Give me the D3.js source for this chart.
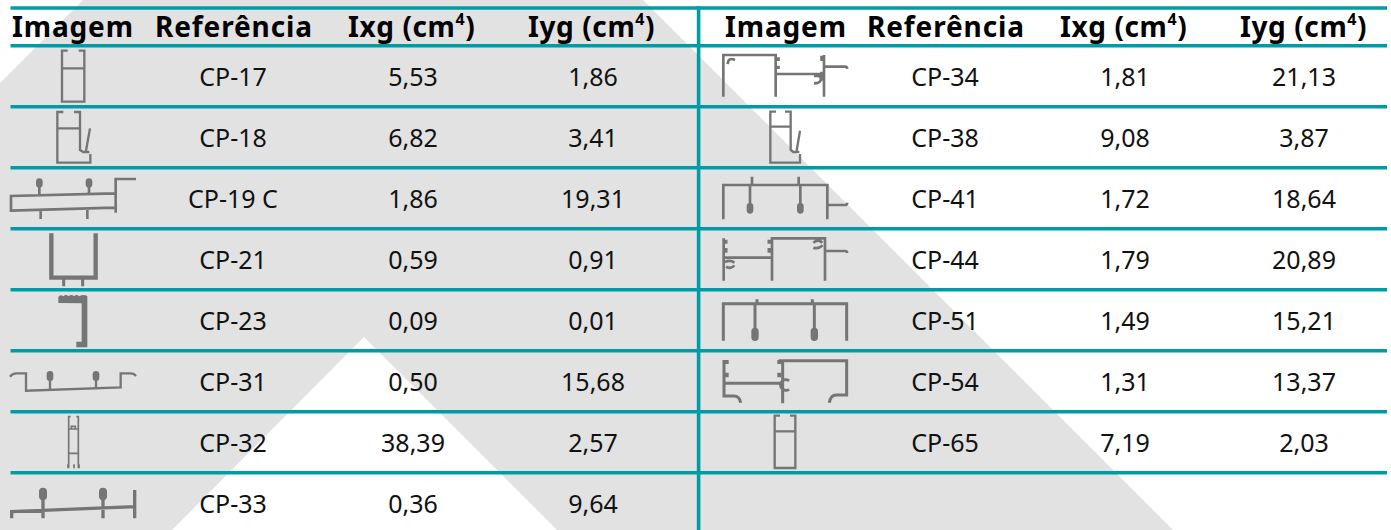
<!DOCTYPE html>
<html lang="pt">
<head>
<meta charset="utf-8">
<title>Perfis CP</title>
<script src="https://cdn.jsdelivr.net/npm/d3@7"></script>
<style>
  html, body { margin: 0; padding: 0; background: #fff; overflow: hidden; }
  svg { display: block; }
  text { font-family: "Noto Sans", "Open Sans", sans-serif; fill: #111; }
  .head { font-size: 28px; font-weight: 700; fill: #000; }
  .cell { font-size: 25px; text-anchor: middle; }
</style>
</head>
<body>
<svg id="chart" width="1391" height="530"></svg>
<script>
const refsLeft = ['CP-17', 'CP-18', 'CP-19 C', 'CP-21', 'CP-23', 'CP-31', 'CP-32', 'CP-33'];
const ixgLeft = ['5,53', '6,82', '1,86', '0,59', '0,09', '0,50', '38,39', '0,36'];
const iygLeft = ['1,86', '3,41', '19,31', '0,91', '0,01', '15,68', '2,57', '9,64'];

const refsRight = ['CP-34', 'CP-38', 'CP-41', 'CP-44', 'CP-51', 'CP-54', 'CP-65'];
const ixgRight = ['1,81', '9,08', '1,72', '1,79', '1,49', '1,31', '7,19'];
const iygRight = ['21,13', '3,87', '18,64', '20,89', '15,21', '13,37', '2,03'];

const headers = ['Imagem', 'Referência', 'Ixg', 'Iyg'];

const TEAL = '#009ca6', GRAY = '#e2e2e2', STEEL = '#757575';

const svg = d3.select('#chart');

// rows are 61px apart; the last line falls off the page
const rowY = d3.scaleLinear().domain([0, 8]).range([45.7, 533.7]);

// fundo: chevron cinza
const bg = [[83, 0], [643, 0], [1173, 530], [557, 530], [364, 337], [172, 530], [0, 530], [0, 83]];
svg.append('path').attr('d', d3.line()(bg) + 'Z').attr('fill', GRAY);

// perfis, traced at 3x: x from the column origin, y from the row's top line
// bulb = rounded stud head
const bulb = (x, y, rx, ry) =>
  `M${x - rx},${y - ry + rx}a${rx},${rx} 0 0,1 ${2 * rx},0V${y + ry - rx}a${rx},${rx} 0 0,1 ${-2 * rx},0Z`;

const shapes = {
  'CP-17': { w: 7, d: 'M203,15H186V168H253V15H236M186,68H253' },
  'CP-18': { w: 7, d: 'M190,16H172V168H271V142M222,16H240V130L250,136H268M172,65H240M270,65L258,132' },
  'CP-19 C': {
    w: 8,
    d: 'M345,77L33,85V129L345,120M347,135V34H408M118,82V50M267,78V50M122,126V154M262,122V154',
    f: bulb(118, 46, 10, 14) + bulb(267, 46, 10, 14),
  },
  'CP-21': { w: 13, d: 'M154,14V147H287V14', s: { w: 9, d: 'M191,150V173M248,150V173' } },
  'CP-23': {
    f: 'M175,40V22Q180,12 190,20Q198,12 206,20Q214,12 222,20Q230,12 238,20Q250,12 262,19V173H229V156H245V41Z',
  },
  'CP-31': {
    w: 7,
    d: 'M30,78Q38,68 48,68H78V120L362,110V68H392Q402,68 408,76M150,115V85M288,112V85',
    f: bulb(150, 76, 10, 15) + bulb(288, 76, 10, 15),
  },
  'CP-32': {
    w: 5,
    d: 'M212,15H206V170M229,15H235V170M206,52H235M206,125H235M214,50V44H226V50M204,170V158M237,170V158M222,170V158',
  },
  'CP-33': {
    w: 10,
    d: 'M35,137V117L404,102M404,52V137M129,75V137M309,75V137',
    f: bulb(129, 64, 12, 19) + bulb(309, 64, 12, 19),
  },
  'CP-34': {
    w: 8,
    d: 'M100,153V28H257V153M257,85H402M402,28V153M402,63H465q6,0 7,6M135,43Q115,33 113,55M372,91H384Q394,91 392,103Q390,113 372,113',
    s: { w: 11, d: 'M264,35V46M264,60V70M396,30V46M396,78V105' },
  },
  'CP-38': { w: 7, d: 'M258,15H241V168H330V142M285,15H302V130L310,136H328M241,60H302M330,72L320,132' },
  'CP-41': {
    w: 8,
    d: 'M100,155V52H412V155M186,27V52M326,27V52M180,52V110M331,52V110M412,112H465q6,0 7,-7',
    f: bulb(180, 122, 10, 16) + bulb(331, 122, 10, 16),
  },
  'CP-44': {
    w: 8,
    d: 'M101,156V29M101,87H246M246,156V29H405V156M404,67H465q6,0 7,6M370,42Q385,30 397,42M370,57Q385,62 398,50M105,100Q122,92 133,102M133,110Q125,122 108,114',
    s: { w: 11, d: 'M107,33V45M107,58V72M238,33V45M238,58V72' },
  },
  'CP-51': {
    w: 9,
    d: 'M100,153V42H470V153M201,29V42M367,29V42M195,42V120M373,42V120',
    f: bulb(195, 134, 11, 20) + bulb(373, 134, 11, 20),
  },
  'CP-54': {
    w: 9,
    d: 'M102,28V136H132Q148,136 152,156M102,98H270M278,30V158M266,30H470V133H438Q422,133 418,156M297,90A16,16 0 1,0 297,116',
    s: { w: 12, d: 'M110,28V40M110,66V80M268,28V40M268,66V80' },
  },
  'CP-65': { w: 7, d: 'M270,12H254V169H316V12H300M254,59H316' },
};

function drawIcon(name, x0, rowTop) {
  const sh = shapes[name];
  const g = svg.append('g').attr('transform', `translate(${x0},${rowTop}) scale(${1 / 3})`);
  if (sh.d) g.append('path').attr('d', sh.d).attr('fill', 'none').attr('stroke', STEEL).attr('stroke-width', sh.w);
  if (sh.s) g.append('path').attr('d', sh.s.d).attr('fill', 'none').attr('stroke', STEEL).attr('stroke-width', sh.s.w);
  if (sh.f) g.append('path').attr('d', sh.f).attr('fill', STEEL);
}

function drawTable(refs, ixg, iyg, opt) {
  refs.forEach((r, i) => {
    const top = rowY(i);
    drawIcon(r, opt.iconX, top);
    const base = top + 39.8;
    svg.append('text').attr('class', 'cell').attr('x', opt.cols[0]).attr('y', base).text(r);
    svg.append('text').attr('class', 'cell').attr('x', opt.cols[1]).attr('y', base).text(ixg[i]);
    svg.append('text').attr('class', 'cell').attr('x', opt.cols[2]).attr('y', base + 0.6).text(iyg[i]);
  });

  // cabecalho
  const hx = opt.head;
  svg.append('text').attr('class', 'head').attr('x', hx[0]).attr('y', 37)
    .attr('textLength', 121).attr('lengthAdjust', 'spacing').text(headers[0]);
  svg.append('text').attr('class', 'head').attr('x', hx[1]).attr('y', 37)
    .attr('textLength', 157).attr('lengthAdjust', 'spacing').text(headers[1]);
  [2, 3].forEach((k) => {
    const t = svg.append('text').attr('class', 'head').attr('x', hx[k]).attr('y', 37)
      .style('letter-spacing', '0.6px');
    t.append('tspan').text(`${headers[k]} (cm`);
    t.append('tspan').attr('dy', -12).style('font-size', '16px').text('4');
    t.append('tspan').attr('dy', 12).text(')');
  });
}

drawTable(refsLeft, ixgLeft, iygLeft, {
  iconX: 0, cols: [233, 413, 593], head: [12, 155, 348, 528],
});
drawTable(refsRight, ixgRight, iygRight, {
  iconX: 690, cols: [945, 1125, 1304], head: [725, 867, 1060, 1240],
});

// linhas da tabela
const lines = [8].concat(d3.range(0, 8).map((i) => rowY(i)));
svg.selectAll('line.row').data(lines).join('line')
  .attr('class', 'row')
  .attr('x1', 10.5).attr('x2', 1387)
  .attr('y1', (d) => d).attr('y2', (d) => d)
  .attr('stroke', TEAL).attr('stroke-width', 3.4);
svg.append('line')
  .attr('x1', 698.6).attr('x2', 698.6).attr('y1', 6.3).attr('y2', 530)
  .attr('stroke', TEAL).attr('stroke-width', 3.6);
</script>
</body>
</html>
